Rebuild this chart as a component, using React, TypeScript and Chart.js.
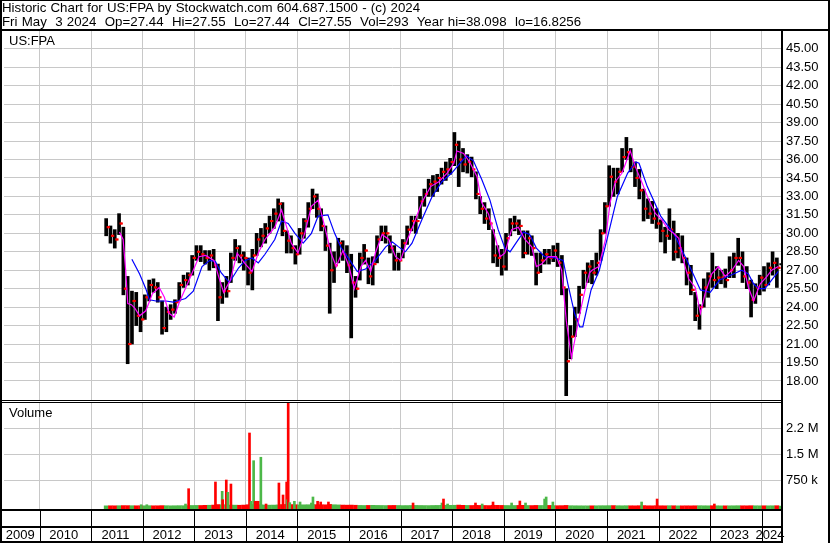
import React, { useEffect, useRef } from 'react';
import { Chart, registerables } from 'chart.js';

Chart.register(...registerables);

// ---- axis / category data ----
const FIRST_YEAR = 2011;
const FIRST_MONTH_INDEX = 3; // April 2011 (0 = January)
const X_MIN = 2009.3116;
const X_MAX = 2024.3716;
const yearGridValues = [2010, 2011, 2012, 2013, 2014, 2015, 2016, 2017, 2018, 2019, 2020, 2021, 2022, 2023, 2024];
const yearLabels = ['2009', '2010', '2011', '2012', '2013', '2014', '2015', '2016', '2017', '2018', '2019', '2020', '2021', '2022', '2023', '2024'];
const priceTicks = [18, 19.5, 21, 22.5, 24, 25.5, 27, 28.5, 30, 31.5, 33, 34.5, 36, 37.5, 39, 40.5, 42, 43.5, 45];
const volumeTicks = [750000, 1500000, 2250000];
const volumeTickLabels = ['750 k', '1.5 M', '2.2 M'];

// ---- monthly price data, Apr 2011 .. May 2024 ----
const monthHigh = [
  31.2, 30.6, 30.3, 31.6, 30.5, 26.5, 25.3, 25.2, 24.0,
  25.0, 26.2, 26.3, 26.0, 24.5, 24.0, 24.2, 24.6, 26.0, 26.6, 26.8, 28.2,
  29.0, 29.0, 28.6, 28.6, 28.7, 27.5, 26.0, 26.5, 28.4, 29.5, 29.0, 28.5,
  28.0, 28.7, 30.0, 30.4, 30.8, 31.4, 32.0, 32.8, 32.5, 30.2, 29.8, 29.0,
  30.4, 31.2, 32.5, 33.6, 33.2, 32.0, 30.6, 29.2, 28.5, 29.6, 29.4, 29.0,
  28.3, 26.5, 28.4, 29.1, 28.0, 28.1, 29.8, 30.6, 30.6, 29.8, 29.0, 28.4,
  29.5, 30.6, 31.4, 31.4, 33.0, 33.6, 34.4, 34.7, 34.8, 35.3, 35.8, 36.1,
  38.2, 37.5, 36.9, 36.4, 36.2, 35.0, 33.0, 32.5, 32.0, 30.3, 29.0, 28.7,
  30.0, 31.2, 31.4, 31.1, 30.2, 30.2, 29.8, 28.4, 28.4, 28.7, 28.7, 29.0,
  29.2, 28.2, 25.5, 22.5, 24.0, 25.7, 27.0, 27.6, 27.8, 28.4, 30.3, 32.5,
  35.5, 35.3, 35.3, 36.9, 37.8, 36.9, 35.8, 35.2, 33.6, 32.8, 32.6, 32.0,
  31.1, 30.5, 32.0, 31.0, 30.0, 29.8, 28.0, 27.4, 25.2, 24.2, 26.3, 26.8,
  28.4, 27.3, 27.0, 27.1, 28.1, 28.4, 29.6, 28.5, 27.3, 26.2, 25.9, 26.6,
  27.3, 27.6, 28.5, 28.0, 27.55,
];
const monthLow = [
  29.8, 29.2, 28.8, 29.9, 25.0, 19.4, 21.0, 22.5, 22.0,
  23.0, 24.5, 25.2, 24.4, 21.8, 22.0, 23.0, 23.5, 24.5, 25.6, 25.8, 26.6,
  27.8, 27.7, 27.5, 27.0, 27.2, 22.9, 24.3, 24.8, 26.0, 27.8, 27.6, 27.0,
  25.8, 25.4, 28.2, 28.9, 29.2, 30.0, 30.4, 31.0, 29.8, 28.4, 28.4, 27.5,
  28.3, 29.6, 30.5, 32.0, 31.3, 30.2, 28.6, 23.5, 26.0, 27.6, 27.8, 26.8,
  21.5, 24.8, 26.2, 27.5, 25.9, 25.8, 27.6, 29.4, 29.2, 28.4, 27.0, 27.0,
  28.0, 29.1, 30.2, 30.0, 31.2, 32.2, 33.0, 33.0, 33.4, 34.0, 34.3, 34.8,
  35.5, 33.8, 35.0, 34.9, 34.6, 32.8, 31.6, 30.8, 30.3, 27.6, 27.3, 26.6,
  27.0, 29.8, 30.2, 29.9, 28.0, 28.3, 28.2, 25.8, 26.8, 27.5, 27.5, 27.7,
  27.3, 25.0, 16.8, 19.8, 21.6, 23.5, 25.5, 26.0, 25.9, 26.6, 27.8, 30.0,
  32.2, 33.0, 33.2, 35.0, 36.0, 35.0, 33.8, 32.8, 31.0, 31.2, 30.8, 30.4,
  29.3, 28.4, 29.5, 27.8, 28.0, 27.6, 25.8, 25.0, 22.9, 22.2, 24.0, 24.8,
  25.6, 25.5, 25.9, 25.6, 26.4, 26.4, 27.4, 26.0, 25.5, 23.2, 24.3, 25.0,
  25.3, 25.8, 26.6, 25.6, 27.44,
];
const monthClose = [
  30.5, 29.8, 29.5, 30.8, 25.5, 21.0, 24.5, 23.3, 23.0,
  24.8, 25.8, 25.6, 24.8, 22.3, 23.6, 23.8, 24.4, 25.8, 26.2, 26.6, 28.0,
  28.5, 28.3, 28.0, 28.2, 27.4, 24.8, 25.3, 25.3, 28.0, 28.8, 28.2, 28.0,
  26.8, 28.2, 29.5, 29.8, 30.4, 31.0, 31.6, 32.4, 30.2, 29.4, 28.8, 28.3,
  30.0, 31.0, 32.0, 33.0, 32.0, 30.6, 29.0, 27.0, 27.4, 29.2, 28.3, 27.4,
  26.0, 25.5, 28.0, 28.6, 26.5, 27.5, 29.5, 30.0, 30.0, 28.8, 27.8, 27.8,
  29.2, 30.3, 31.0, 31.0, 32.6, 33.2, 34.0, 34.2, 34.5, 35.0, 35.2, 35.8,
  37.2, 36.0, 35.6, 35.8, 35.2, 33.2, 32.0, 31.2, 30.8, 28.2, 28.0, 27.3,
  29.6, 30.8, 30.8, 30.6, 28.4, 29.6, 28.8, 26.8, 27.8, 28.3, 28.0, 28.6,
  27.6, 25.6, 19.6, 21.6, 23.0, 25.0, 26.8, 27.3, 26.8, 27.6, 30.0, 32.2,
  34.6, 34.2, 35.0, 36.2, 36.6, 35.4, 34.5, 33.5, 32.0, 31.6, 31.2, 30.8,
  30.2, 29.8, 30.3, 28.5, 28.8, 28.0, 26.8, 25.4, 23.3, 24.0, 25.6, 26.5,
  26.2, 26.4, 26.4, 26.2, 27.0, 28.0, 28.0, 26.5, 26.0, 24.6, 25.6, 26.4,
  25.8, 27.2, 27.6, 27.2, 27.55,
];
const monthVolume = [
  8000, 10000, 9000, 12000, 15000, 14000, 12000, 10000, 9000,
  10000, 12000, 9000, 10000, 14000, 12000, 9000, 11000, 13000, 12000, 15000, 18000,
  20000, 18000, 22000, 25000, 30000, 45000, 35000, 40000, 30000, 28000, 25000, 30000,
  40000, 45000, 40000, 38000, 30000, 28000, 30000, 35000, 45000, 50000, 45000, 40000,
  35000, 38000, 40000, 45000, 42000, 40000, 38000, 50000, 40000, 35000, 30000, 28000,
  30000, 25000, 20000, 18000, 20000, 22000, 20000, 18000, 16000, 18000, 20000, 18000,
  15000, 16000, 18000, 20000, 18000, 16000, 15000, 18000, 20000, 22000, 25000, 22000,
  25000, 30000, 22000, 20000, 18000, 22000, 20000, 18000, 16000, 25000, 22000, 20000,
  18000, 16000, 18000, 20000, 22000, 18000, 16000, 20000, 18000, 16000, 20000, 15000,
  12000, 14000, 20000, 12000, 10000, 9000, 8000, 8000, 9000, 10000, 12000, 12000,
  14000, 15000, 12000, 10000, 12000, 10000, 9000, 12000, 15000, 10000, 9000, 12000,
  10000, 9000, 12000, 10000, 8000, 8000, 9000, 8000, 10000, 12000, 10000, 9000,
  12000, 10000, 8000, 8000, 9000, 10000, 12000, 10000, 9000, 12000, 10000, 9000,
  10000, 9000, 10000, 12000, 293,
];

// ---- single-day volume spikes ----
const spikeDates = [2011.97, 2012.08, 2012.83, 2012.89, 2013.41, 2013.54, 2013.55, 2013.62, 2013.65, 2013.71,
  2014.07, 2014.10, 2014.15, 2014.18, 2014.21, 2014.24, 2014.29, 2014.39, 2014.64, 2014.72,
  2014.79, 2014.80, 2014.82, 2014.85, 2014.94, 2015.05, 2015.27, 2015.30, 2015.39, 2015.45,
  2015.60, 2017.24, 2017.80, 2017.83, 2017.91, 2018.45, 2018.58, 2018.79, 2019.15, 2019.31,
  2019.42, 2019.79, 2019.82, 2019.95, 2021.67, 2021.97, 2023.08];
const spikeVolumes = [40000, 40000, 60000, 506000, 701000, 430000, 186000, 759000, 401000, 642000,
  2125000, 140000, 1320000, 140000, 140000, 140000, 1420000, 61000, 671000, 323000,
  701000, 186000, 3050000, 100000, 140000, 119000, 90000, 265000, 140000, 119000,
  119000, 90000, 90000, 206000, 61000, 90000, 61000, 119000, 90000, 148000,
  90000, 206000, 265000, 119000, 119000, 206000, 61000];
const spikeSides = ['g', 'g', 'g', 'r', 'r', 'g', 'r', 'r', 'g', 'r',
  'r', 'g', 'g', 'r', 'r', 'r', 'g', 'r', 'r', 'r',
  'r', 'g', 'r', 'g', 'g', 'g', 'g', 'g', 'r', 'r',
  'r', 'r', 'g', 'r', 'g', 'r', 'g', 'r', 'g', 'r',
  'g', 'g', 'g', 'g', 'g', 'r', 'r'];

// ---- moving averages ----
const fastMaDates = [2011.55, 2011.62, 2011.67, 2011.71, 2011.78, 2011.85, 2011.94, 2012.06, 2012.19, 2012.32,
  2012.42, 2012.51, 2012.61, 2012.71, 2012.90, 2013.09, 2013.22, 2013.38, 2013.47, 2013.57,
  2013.70, 2013.83, 2013.99, 2014.12, 2014.24, 2014.37, 2014.56, 2014.69, 2014.79, 2014.88,
  2015.01, 2015.14, 2015.27, 2015.40, 2015.53, 2015.65, 2015.75, 2015.88, 2016.00, 2016.10,
  2016.23, 2016.32, 2016.42, 2016.51, 2016.64, 2016.77, 2016.90, 2017.00, 2017.13, 2017.25,
  2017.41, 2017.58, 2017.74, 2017.90, 2018.03, 2018.09, 2018.22, 2018.35, 2018.48, 2018.57,
  2018.70, 2018.83, 2018.93, 2019.02, 2019.15, 2019.28, 2019.41, 2019.54, 2019.63, 2019.73,
  2019.86, 2020.02, 2020.12, 2020.21, 2020.31, 2020.41, 2020.50, 2020.58, 2020.66, 2020.71,
  2020.84, 2020.97, 2021.06, 2021.16, 2021.29, 2021.45, 2021.55, 2021.68, 2021.81, 2021.94,
  2022.06, 2022.19, 2022.29, 2022.39, 2022.48, 2022.58, 2022.71, 2022.81, 2022.90, 2023.03,
  2023.16, 2023.29, 2023.42, 2023.55, 2023.65, 2023.74, 2023.84, 2023.97, 2024.10, 2024.19,
  2024.32];
const fastMaValues = [30.1, 29.5, 27.0, 24.3, 24.2, 23.9, 23.3, 23.7, 25.1, 25.6,
  24.8, 23.5, 23.2, 24.4, 26.2, 28.1, 28.2, 27.8, 26.5, 25.2,
  26.2, 28.4, 27.5, 26.9, 28.4, 29.5, 30.5, 31.9, 30.5, 29.2,
  28.4, 30.0, 32.2, 32.7, 30.5, 28.4, 27.3, 28.6, 27.3, 25.5,
  27.3, 27.8, 26.9, 28.4, 29.9, 29.5, 28.1, 27.8, 29.5, 30.7,
  32.5, 33.8, 34.2, 34.9, 35.7, 36.7, 36.5, 35.7, 34.6, 32.5,
  31.6, 29.7, 28.1, 28.4, 30.3, 30.5, 29.5, 28.9, 27.3, 27.5,
  28.1, 28.1, 27.0, 22.9, 19.9, 22.1, 24.0, 25.5, 26.8, 27.0,
  27.3, 29.5, 32.5, 34.2, 34.9, 36.7, 35.4, 34.1, 32.7, 31.6,
  31.1, 30.3, 30.0, 29.6, 27.8, 26.3, 25.6, 23.5, 25.1, 26.7,
  27.3, 26.5, 27.0, 27.8, 27.3, 25.6, 24.5, 25.9, 26.5, 27.0,
  27.3];
const slowMaDates = [2011.79, 2011.94, 2012.06, 2012.13, 2012.26, 2012.45, 2012.59, 2012.83, 2012.98, 2013.15,
  2013.30, 2013.41, 2013.52, 2013.68, 2013.86, 2013.99, 2014.12, 2014.24, 2014.37, 2014.56,
  2014.69, 2014.82, 2014.95, 2015.11, 2015.27, 2015.40, 2015.59, 2015.72, 2015.85, 2016.00,
  2016.16, 2016.32, 2016.51, 2016.71, 2016.84, 2016.96, 2017.09, 2017.22, 2017.41, 2017.61,
  2017.80, 2017.99, 2018.15, 2018.28, 2018.41, 2018.57, 2018.73, 2018.89, 2019.02, 2019.12,
  2019.25, 2019.38, 2019.50, 2019.63, 2019.79, 2019.99, 2020.15, 2020.24, 2020.37, 2020.47,
  2020.53, 2020.69, 2020.85, 2021.01, 2021.20, 2021.40, 2021.56, 2021.62, 2021.78, 2022.04,
  2022.29, 2022.55, 2022.81, 2023.00, 2023.18, 2023.45, 2023.61, 2023.74, 2023.84, 2023.94,
  2024.06, 2024.19, 2024.32];
const slowMaValues = [27.9, 26.7, 25.5, 24.6, 24.5, 24.5, 24.4, 24.7, 25.3, 27.3,
  27.8, 27.7, 26.8, 26.0, 27.2, 27.8, 28.0, 27.6, 28.3, 29.5,
  31.0, 30.8, 30.0, 29.2, 30.0, 31.4, 31.5, 30.0, 28.8, 27.9,
  26.9, 27.1, 27.8, 28.9, 29.3, 28.9, 28.5, 29.2, 31.1, 33.0,
  34.2, 34.9, 35.7, 36.3, 35.9, 34.4, 32.7, 30.3, 28.8, 28.5,
  29.3, 30.1, 29.9, 28.8, 28.1, 28.0, 27.8, 25.9, 23.5, 22.4,
  22.4, 25.4, 27.0, 29.7, 33.0, 34.9, 35.8, 35.7, 33.8, 31.4,
  30.0, 27.8, 25.4, 25.2, 26.2, 26.7, 27.0, 26.7, 25.9, 25.5,
  25.5, 26.2, 26.9];

const FONT = '"Liberation Sans", Arial, Helvetica, sans-serif';
const RED = '#ff0000';
const GREEN = '#4cb848';
const GRID = '#c8c8c8';

function monthTime(i: number): number {
  return FIRST_YEAR + (FIRST_MONTH_INDEX + i + 0.5) / 12;
}

const framePlugin = {
  id: 'stockFrame',
  afterDraw(chart: any) {
    const ctx = chart.ctx;
    const xs = chart.scales.x;
    const right = chart.chartArea.right;
    ctx.save();
    ctx.fillStyle = '#fff';
    ctx.fillRect(0, 400, right, 3);
    ctx.fillRect(0, 511, right, 30);
    ctx.fillStyle = '#000';
    ctx.fillRect(0, 0, 830, 1);
    ctx.fillRect(0, 29, 830, 2);
    ctx.fillRect(0, 0, 2, 543);
    ctx.fillRect(828, 0, 2, 543);
    ctx.fillRect(right, 31, 2, 512);
    ctx.fillRect(0, 400, right, 1);
    ctx.fillRect(0, 402, right, 1);
    ctx.fillRect(0, 509, right, 2);
    ctx.fillRect(0, 526, right, 2);
    ctx.fillRect(0, 541, right + 2, 2);
    for (const y of yearGridValues) {
      const px = Math.round(xs.getPixelForValue(y));
      ctx.fillRect(px, 511, 1, 30);
    }
    ctx.font = '13px ' + FONT;
    ctx.textAlign = 'center';
    ctx.textBaseline = 'alphabetic';
    yearLabels.forEach((lab) => {
      const y = Number(lab);
      const a = Math.max(chart.chartArea.left, xs.getPixelForValue(y));
      const b = Math.min(right, xs.getPixelForValue(y + 1));
      ctx.fillText(lab, (a + b) / 2 - 1.5, 539);
    });
    ctx.restore();
  },
};

export default function App() {
  const ref = useRef<HTMLCanvasElement | null>(null);

  useEffect(() => {
    if (!ref.current) return;
    Chart.defaults.font.family = FONT;
    Chart.defaults.font.size = 13;
    Chart.defaults.color = '#000';

    const bars = monthHigh.map((h, i) => ({ x: monthTime(i), y: [monthLow[i], h] }));
    const closes = monthClose.map((c, i) => ({ x: monthTime(i) + 0.03, y: c }));
    const opens = monthClose.slice(0, -1).map((c, i) => ({ x: monthTime(i + 1) - 0.03, y: c }));
    const vols = monthVolume.map((v, i) => ({ x: monthTime(i), y: v }));
    const volColors = monthClose.map((c, i) => (i === 0 || c >= monthClose[i - 1] ? GREEN : RED));
    const spikes = spikeDates.map((d, i) => ({ x: d, y: spikeVolumes[i] }));
    const spikeColors = spikeSides.map((s) => (s === 'g' ? GREEN : RED));
    const fast = fastMaDates.map((d, i) => ({ x: d, y: fastMaValues[i] }));
    const slow = slowMaDates.map((d, i) => ({ x: d, y: slowMaValues[i] }));

    const chart = new Chart(ref.current, {
      type: 'bar',
      data: {
        datasets: [
          { type: 'line', data: fast, yAxisID: 'yPrice', borderColor: '#ff00ff', borderWidth: 1.2, pointRadius: 0, order: 0 } as any,
          { type: 'line', data: slow, yAxisID: 'yPrice', borderColor: '#0000ff', borderWidth: 1.2, pointRadius: 0, order: 1 } as any,
          { type: 'line', data: closes, yAxisID: 'yPrice', showLine: false, pointStyle: 'rect', pointRadius: 1.5, pointBackgroundColor: RED, pointBorderWidth: 0, order: 2 } as any,
          { type: 'line', data: opens, yAxisID: 'yPrice', showLine: false, pointStyle: 'rect', pointRadius: 1.5, pointBackgroundColor: RED, pointBorderWidth: 0, order: 2 } as any,
          { type: 'bar', data: bars, yAxisID: 'yPrice', backgroundColor: '#000', barThickness: 3, grouped: false, borderWidth: 0, order: 3 } as any,
          { type: 'bar', data: vols, yAxisID: 'yVol', backgroundColor: volColors, barThickness: 4, grouped: false, base: -84000, borderWidth: 0, order: 5 } as any,
          { type: 'bar', data: spikes, yAxisID: 'yVol', backgroundColor: spikeColors, barThickness: 2, grouped: false, base: -84000, borderWidth: 0, order: 4 } as any,
        ],
      },
      options: {
        responsive: false,
        maintainAspectRatio: false,
        animation: false,
        devicePixelRatio: 1,
        layout: { padding: { top: 31, left: 0, right: 0, bottom: 0 } },
        plugins: { legend: { display: false }, tooltip: { enabled: false }, title: { display: false } },
        scales: {
          x: {
            type: 'linear', min: X_MIN, max: X_MAX, offset: false, position: 'bottom',
            afterBuildTicks: (s: any) => { s.ticks = yearGridValues.map((v) => ({ value: v })); },
            afterFit: (s: any) => { s.height = 34; },
            grid: { color: GRID, lineWidth: 1, drawTicks: false, offset: false },
            border: { display: false },
            ticks: { display: false },
          },
          yPrice: {
            type: 'linear', position: 'right', stack: 'panels', stackWeight: 369, min: 16.45, max: 46.45,
            afterBuildTicks: (s: any) => { s.ticks = priceTicks.map((v) => ({ value: v })); },
            afterFit: (s: any) => { s.width = 49; },
            grid: { color: GRID, lineWidth: 1, drawTicks: false },
            border: { display: false },
            ticks: { autoSkip: false, padding: 5, color: '#000', font: { size: 13, family: FONT }, callback: (v: any) => Number(v).toFixed(2) },
          },
          yVol: {
            type: 'linear', position: 'right', stack: 'panels', stackWeight: 109, min: -84000, max: 3084000,
            afterBuildTicks: (s: any) => { s.ticks = volumeTicks.map((v) => ({ value: v })); },
            afterFit: (s: any) => { s.width = 49; },
            grid: { color: GRID, lineWidth: 1, drawTicks: false },
            border: { display: false },
            ticks: { autoSkip: false, padding: 5, color: '#000', font: { size: 13, family: FONT }, callback: (_v: any, i: number) => volumeTickLabels[i] },
          },
        },
      } as any,
      plugins: [framePlugin],
    });
    return () => chart.destroy();
  }, []);

  const textStyle: React.CSSProperties = {
    position: 'absolute', left: 2, fontFamily: FONT, fontSize: '13.3px', lineHeight: '14px', wordSpacing: '0.5px', whiteSpace: 'pre', color: '#000',
  };

  return (
    <div style={{ position: 'absolute', left: 0, top: 0, width: 830, height: 543, background: '#fff', overflow: 'hidden' }}>
      <canvas ref={ref} width={830} height={543} style={{ position: 'absolute', left: 0, top: 0, width: 830, height: 543 }} />
      <div style={{ ...textStyle, top: 1 }}>Historic Chart for US:FPA by Stockwatch.com 604.687.1500 - (c) 2024</div>
      <div style={{ ...textStyle, top: 15 }}>Fri May  3 2024  Op=27.44  Hi=27.55  Lo=27.44  Cl=27.55  Vol=293  Year hi=38.098  lo=16.8256</div>
      <div style={{ ...textStyle, left: 9, top: 34, fontSize: 13, wordSpacing: 0 }}>US:FPA</div>
      <div style={{ ...textStyle, left: 9, top: 406, fontSize: 13, wordSpacing: 0 }}>Volume</div>
    </div>
  );
}
